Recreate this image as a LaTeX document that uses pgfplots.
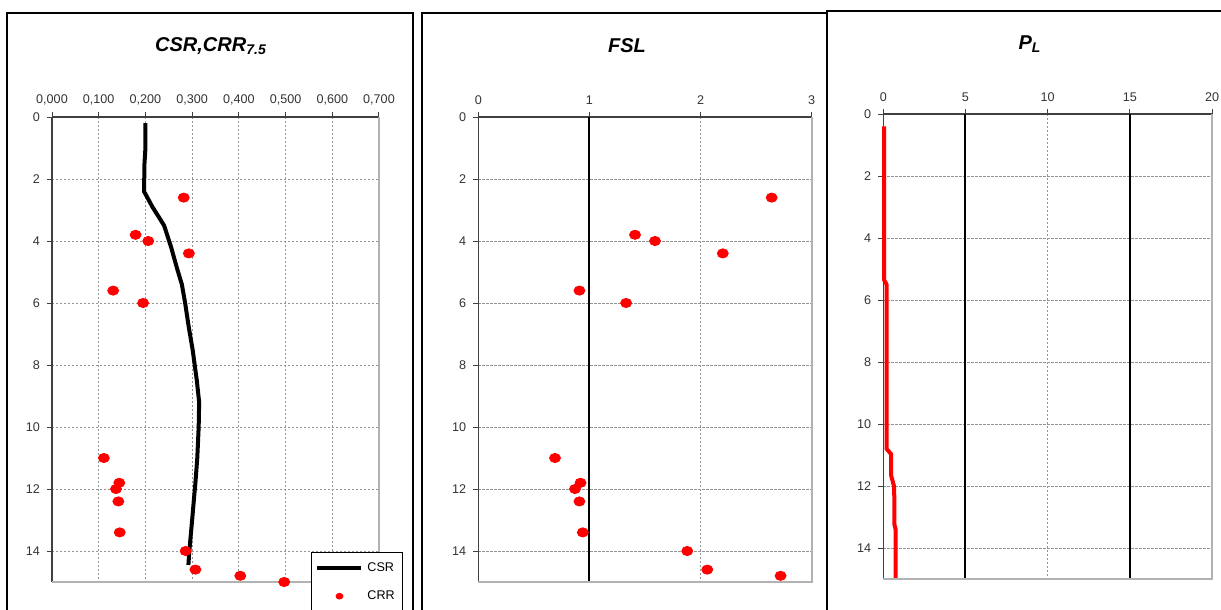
\documentclass[border=0pt]{standalone}
\usepackage{fontspec}
\setmainfont{Liberation Sans}
\usepackage{pgfplots}
\pgfplotsset{compat=1.18}

\pgfplotsset{
  panel/.style={
    scale only axis,
    anchor=north west,
    y dir=reverse,
    ymin=0, ymax=15,
    ytick={0,2,4,6,8,10,12,14},
    axis x line*=top,
    axis y line*=left,
    axis line style={-, black!75, line width=0.8pt},
    tick align=outside,
    major tick length=2.5pt,
    tick style={black!75, line width=0.5pt},
    grid=major,
    grid style={gray!85, dash pattern=on 1.2pt off 0.8pt, line width=0.45pt},
    ticklabel style={font=\fontsize{6.3}{7}\selectfont, text=black!80},
    /pgf/number format/assume math mode=true,
    clip=false,
  },
  crr/.style={only marks, mark=*, mark size=2.3pt, mark options={xscale=1.2, draw=red, fill=red}},
}

\begin{document}
\begin{tikzpicture}
\useasboundingbox (0,0) rectangle (610.5pt,-305pt);

% frames
\draw[black, line width=0.6pt] (3.5pt,-6.5pt) rectangle (206.5pt,-320pt);
\draw[black, line width=0.6pt] (211pt,-6.5pt) rectangle (413.5pt,-320pt);
\draw[black, line width=0.6pt] (413.5pt,-5.5pt) rectangle (620pt,-320pt);

% titles
\node[font=\fontsize{10}{12}\selectfont\bfseries\itshape] at (105.5pt,-23pt) {CSR,CRR\textsubscript{7.5}};
\node[font=\fontsize{10}{12}\selectfont\bfseries\itshape] at (313.5pt,-23pt) {FSL};
\node[font=\fontsize{10}{12}\selectfont\bfseries\itshape] at (515pt,-22pt) {P\textsubscript{L}};

% ---------- Panel 1: CSR, CRR ----------
\begin{axis}[panel,
  at={(26pt,-58.5pt)}, width=163.5pt, height=232.5pt,
  xmin=0, xmax=0.7,
  xtick={0,0.1,0.2,0.3,0.4,0.5,0.6,0.7},
  xticklabels={{0,000},{0,100},{0,200},{0,300},{0,400},{0,500},{0,600},{0,700}},
  legend style={at={(axis description cs:0.792,0.0645)}, anchor=north west,
    draw=black, line width=0.5pt, fill=white,
    font=\fontsize{6.3}{7}\selectfont, row sep=4pt, inner xsep=2pt, inner ysep=3pt},
  legend cell align=left,
  legend image code/.code={\draw[mark repeat=2,mark phase=2,#1] plot coordinates {(0pt,0pt) (11pt,0pt) (22pt,0pt)};},
]
\addplot[black, line width=2pt] coordinates {
(0.200,0.2) (0.200,1.0) (0.198,1.5) (0.197,2.4) (0.215,2.9) (0.240,3.5)
(0.255,4.2) (0.268,4.9) (0.278,5.4) (0.285,6.0) (0.293,6.8) (0.301,7.5)
(0.310,8.5) (0.315,9.2) (0.314,10.0) (0.311,11.0) (0.307,11.8) (0.304,12.3)
(0.300,13.0) (0.294,14.0) (0.292,14.45)};
\addlegendentry{CSR}
\addplot[crr, legend image post style={mark size=1.4pt}] coordinates {
(0.282,2.6) (0.179,3.8) (0.206,4.0) (0.293,4.4) (0.131,5.6) (0.195,6.0)
(0.111,11.0) (0.144,11.8) (0.137,12.0) (0.142,12.4) (0.145,13.4)
(0.286,14.0) (0.307,14.6) (0.403,14.8) (0.497,15.0)};
\addlegendentry{CRR}
\draw[gray!60, line width=1pt] (axis cs:0.7,0) -- (axis cs:0.7,15) -- (axis cs:0,15);
\end{axis}

% ---------- Panel 2: FSL ----------
\begin{axis}[panel,
  at={(239.15pt,-58.5pt)}, width=166.7pt, height=232.5pt,
  xmin=0, xmax=3, xtick={0,1,2,3},
]
\addplot[black, line width=1pt] coordinates {(1,0) (1,15)};
\addplot[crr] coordinates {
(2.64,2.6) (1.41,3.8) (1.59,4.0) (2.20,4.4) (0.91,5.6) (1.33,6.0)
(0.69,11.0) (0.92,11.8) (0.87,12.0) (0.91,12.4) (0.94,13.4)
(1.88,14.0) (2.06,14.6) (2.72,14.8)};
\draw[gray!60, line width=1pt] (axis cs:3,0) -- (axis cs:3,15) -- (axis cs:0,15);
\end{axis}

% ---------- Panel 3: PL ----------
\begin{axis}[panel,
  at={(441.65pt,-57pt)}, width=164.35pt, height=232.5pt,
  xmin=0, xmax=20, xtick={0,5,10,15,20},
]
\addplot[black, line width=1pt] coordinates {(5,0) (5,15)};
\addplot[black, line width=1pt] coordinates {(15,0) (15,15)};
\addplot[red, line width=2pt] coordinates {
(0.05,0.4) (0.05,5.35) (0.2,5.5) (0.2,10.8) (0.47,10.97) (0.47,11.65)
(0.65,12.0) (0.67,12.37) (0.67,13.23) (0.75,13.4) (0.75,15.0)};
\draw[gray!60, line width=1pt] (axis cs:20,0) -- (axis cs:20,15) -- (axis cs:0,15);
\end{axis}
\end{tikzpicture}
\end{document}
